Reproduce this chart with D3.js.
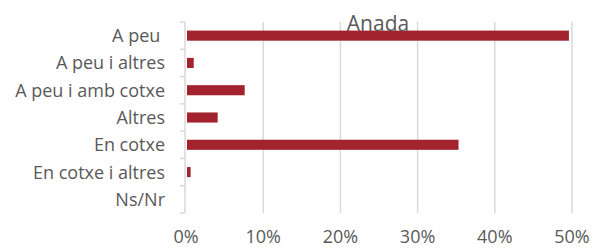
<!DOCTYPE html>
<html lang="ca">
<head>
<meta charset="utf-8">
<title>Anada</title>
<script src="https://d3js.org/d3.v7.min.js"></script>
<style>
  body { margin: 0; background: #fff; }
  svg text { font-family: "Open Sans", "DejaVu Sans", sans-serif; fill: #595959; }
</style>
</head>
<body>
<svg id="chart" width="592" height="248"></svg>
<script>
var title = "Anada";
var categories = ["A peu ", "A peu i altres", "A peu i amb cotxe", "Altres", "En cotxe", "En cotxe i altres", "Ns/Nr"];
var values = [0.496, 0.010, 0.076, 0.041, 0.353, 0.006, 0];
var xTicks = [0, 0.1, 0.2, 0.3, 0.4, 0.5];

var svg = d3.select("#chart");
var margin = {left: 186, right: 20, top: 22, bottom: 35};

var x = d3.scaleLinear().domain([0, 0.5]).range([margin.left, 572]);
var y = d3.scaleBand().domain(categories).range([margin.top, 213]).paddingInner(0.63).paddingOuter(0.315);
var band = d3.scaleBand().domain(categories).range([margin.top, 213]);

// gridlines
svg.append("g").selectAll("line").data(xTicks.slice(1)).join("line")
  .attr("x1", d => x(d)).attr("x2", d => x(d))
  .attr("y1", margin.top).attr("y2", 213)
  .attr("stroke", "#d9d9d9").attr("stroke-width", 1.5);

// y axis line with ticks at band edges
var edges = categories.map(c => band(c)).concat([213]);
svg.append("line").attr("x1", 185).attr("x2", 185).attr("y1", margin.top).attr("y2", 213)
  .attr("stroke", "#d9d9d9").attr("stroke-width", 1.5);
svg.append("g").selectAll("line").data(edges).join("line")
  .attr("x1", 180).attr("x2", 185).attr("y1", d => d).attr("y2", d => d)
  .attr("stroke", "#d9d9d9").attr("stroke-width", 1.5);

// bars
svg.append("g").selectAll("rect").data(values).join("rect")
  .attr("x", x(0) + 1)
  .attr("y", (d, i) => y(categories[i]))
  .attr("width", d => Math.max(0, x(d) - x(0) - 1))
  .attr("height", y.bandwidth())
  .attr("fill", "#a2222d");

// category labels
svg.append("g").selectAll("text").data(categories).join("text")
  .attr("x", 165)
  .attr("y", d => band(d) + band.bandwidth() / 2)
  .attr("dy", "0.36em")
  .attr("text-anchor", "end")
  .style("font-size", "18px")
  .style("white-space", "pre")
  .text(d => d);

// x tick labels
svg.append("g").selectAll("text").data(xTicks).join("text")
  .attr("x", d => x(d))
  .attr("y", 243)
  .attr("text-anchor", "middle")
  .style("font-size", "18px")
  .text(d => d3.format(".0%")(d));

// title
svg.append("text").attr("x", 378).attr("y", 31)
  .attr("text-anchor", "middle")
  .style("font-size", "21px")
  .text(title);
</script>
</body>
</html>
